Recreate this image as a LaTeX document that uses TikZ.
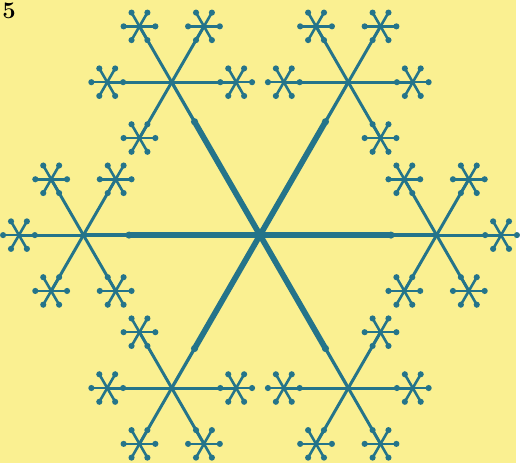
\documentclass[tikz,border=0pt]{standalone}
\usetikzlibrary{calc}
\definecolor{snow}{RGB}{36,116,138}
\definecolor{bg}{RGB}{250,240,145}
\tikzset{
  thickarm/.style={line width=5.8pt,draw=snow,line cap=round},
  thinarm/.style={line width=3.3pt,draw=snow,line cap=round},
  subarm/.style={line width=3pt,draw=snow,line cap=round},
  spoke/.style={line width=2.6pt,draw=snow,line cap=round},
  knob/.style={fill=snow}
}
\begin{document}
\begin{tikzpicture}[x=1pt,y=-1pt]
\fill[bg] (0,0) rectangle (520,467);
\node[anchor=north west,inner sep=0pt,font=\fontsize{24}{24}\selectfont\bfseries] (label) at (2,3) {5};
\coordinate (C) at (262,237);
\foreach \a in {0,60,...,300} {
  \coordinate (S) at ($(C)+(\a:178)$);
  \coordinate (K) at ($(C)+(\a:132)$);
  \draw[thinarm] (C) -- (S);
  \draw[thickarm] (C) -- (K);
  \fill[knob] (K) circle (3.6);
  \foreach \k in {1,...,5} {
    \pgfmathsetmacro{\b}{\a+180+60*\k}
    \coordinate (P) at ($(S)+(\b:65)$);
    \draw[subarm] (S) -- (P);
    \foreach \s in {0,60,...,300} {
      \draw[spoke] (P) -- ($(P)+(\s:16)$);
      \fill[knob] ($(P)+(\s:16)$) circle (3.1);
    }
  }
}
\end{tikzpicture}
\end{document}
